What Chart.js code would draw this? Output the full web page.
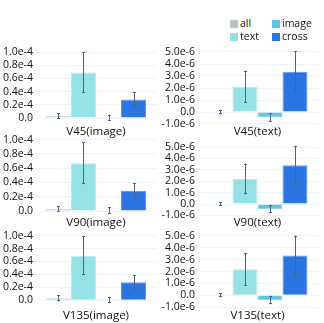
<!DOCTYPE html>
<html>
<head>
<meta charset="utf-8">
<script src="https://cdn.jsdelivr.net/npm/chart.js@4.4.0/dist/chart.umd.min.js"></script>
<style>
    html, body { margin: 0; padding: 0; background: #fff; }
    #wrap { position: relative; width: 324px; height: 323px; overflow: hidden; font-family: "Open Sans", sans-serif; }
    canvas { position: absolute; }
    .lg { position: absolute; font-size: 10.5px; color: #111; line-height: 12px; white-space: nowrap; }
    .lg i { display: inline-block; width: 8px; height: 8px; margin-right: 2px; vertical-align: -1px; }
</style>
</head>
<body>
<div id="wrap"></div>
<script>
// 系列
const seriesNames = ['all', 'text', 'image', 'cross'];
const seriesColors = ['#bcc5c9', '#95e1e6', '#5ec6e1', '#2b75e0'];
const seriesBorders = ['#cfd6d9', '#b4ecef', '#86d5ea', '#5f97ea'];

// 刻度
const imageTicks = [0, 0.2e-4, 0.4e-4, 0.6e-4, 0.8e-4, 1.0e-4];
const imageTickLabels = ['0.0', '0.2e-4', '0.4e-4', '0.6e-4', '0.8e-4', '1.0e-4'];
const textTicks = [-1e-6, 0, 1e-6, 2e-6, 3e-6, 4e-6, 5e-6];
const textTickLabels = ['-1.0e-6', '0.0', '1.0e-6', '2.0e-6', '3.0e-6', '4.0e-6', '5.0e-6'];

// 数值 (all, text, image, cross)
const v45Image = [0.03e-4, 0.69e-4, 0.005e-4, 0.28e-4];
const v45ImageErr = [0.04e-4, 0.305e-4, 0.045e-4, 0.11e-4];
const v90Image = [0.03e-4, 0.67e-4, 0.005e-4, 0.28e-4];
const v90ImageErr = [0.04e-4, 0.295e-4, 0.045e-4, 0.11e-4];
const v135Image = [0.03e-4, 0.69e-4, 0.003e-4, 0.28e-4];
const v135ImageErr = [0.045e-4, 0.3e-4, 0.05e-4, 0.11e-4];

const v45Text = [0, 2.1e-6, -0.45e-6, 3.35e-6];
const v45TextErr = [0.18e-6, 1.35e-6, 0.37e-6, 1.7e-6];
const v90Text = [0, 2.2e-6, -0.45e-6, 3.4e-6];
const v90TextErr = [0.18e-6, 1.35e-6, 0.35e-6, 1.7e-6];
const v135Text = [0, 2.2e-6, -0.4e-6, 3.35e-6];
const v135TextErr = [0.18e-6, 1.38e-6, 0.36e-6, 1.68e-6];

// 面板布局
const panels = [
    { title: 'V45(image)', vals: v45Image, errs: v45ImageErr, kind: 'image', x: 0, y: 42, w: 162, h: 98, top: 50.7, bottom: 122, titleY: 132 },
    { title: 'V45(text)', vals: v45Text, errs: v45TextErr, kind: 'text', x: 162, y: 42, w: 162, h: 98, top: 50.8, bottom: 124.6, titleY: 131 },
    { title: 'V90(image)', vals: v90Image, errs: v90ImageErr, kind: 'image', x: 0, y: 130, w: 162, h: 100, top: 137.6, bottom: 215.3, titleY: 223 },
    { title: 'V90(text)', vals: v90Text, errs: v90TextErr, kind: 'text', x: 162, y: 130, w: 162, h: 100, top: 145.9, bottom: 216, titleY: 223 },
    { title: 'V135(image)', vals: v135Image, errs: v135ImageErr, kind: 'image', x: 0, y: 226, w: 162, h: 97, top: 232.7, bottom: 305, titleY: 317 },
    { title: 'V135(text)', vals: v135Text, errs: v135TextErr, kind: 'text', x: 162, y: 226, w: 162, h: 97, top: 234.8, bottom: 308.6, titleY: 317 }
];

const TITLE_SIZE = 11.5;
const TITLE_LH = TITLE_SIZE * 1.2;

// 误差线插件
const errorBars = {
    id: 'errorBars',
    afterDatasetsDraw(chart) {
        const ctx = chart.ctx;
        const yScale = chart.scales.y;
        ctx.save();
        ctx.strokeStyle = '#4d6290';
        ctx.lineWidth = 1;
        chart.data.datasets.forEach((ds, i) => {
            const meta = chart.getDatasetMeta(i);
            meta.data.forEach((bar, j) => {
                const v = ds.data[j];
                const e = ds.errs[j];
                const x = Math.round(bar.x) + 0.5;
                const y1 = yScale.getPixelForValue(v + e);
                const y2 = yScale.getPixelForValue(v - e);
                ctx.beginPath();
                ctx.moveTo(x, y1);
                ctx.lineTo(x, y2);
                ctx.moveTo(x - 1.5, Math.round(y1) + 0.5);
                ctx.lineTo(x + 1.5, Math.round(y1) + 0.5);
                ctx.moveTo(x - 1.5, Math.round(y2) - 0.5);
                ctx.lineTo(x + 1.5, Math.round(y2) - 0.5);
                ctx.stroke();
            });
        });
        ctx.restore();
    }
};

function buildPanel(p) {
    const canvas = document.createElement('canvas');
    canvas.width = p.w;
    canvas.height = p.h;
    canvas.style.left = p.x + 'px';
    canvas.style.top = p.y + 'px';
    document.getElementById('wrap').appendChild(canvas);

    const isImage = p.kind === 'image';
    const ticks = isImage ? imageTicks : textTicks;
    const tickLabels = isImage ? imageTickLabels : textTickLabels;
    const yMin = isImage ? -0.06e-4 : -1.05e-6;
    const yMax = isImage ? 1.02e-4 : 5.1e-6;
    const axisW = isImage ? 35 : 35;
    const plotRight = isImage ? 157 : 318;
    const catPct = isImage ? 0.82 : 0.826;

    const titlePad = Math.max(0, p.titleY - p.bottom - TITLE_LH / 2);
    const padBottom = Math.max(0, (p.y + p.h) - p.bottom - titlePad - TITLE_LH);

    new Chart(canvas.getContext('2d'), {
        type: 'bar',
        data: {
            labels: [''],
            datasets: seriesNames.map((name, i) => ({
                label: name,
                data: [p.vals[i]],
                errs: [p.errs[i]],
                backgroundColor: seriesColors[i],
                borderColor: seriesBorders[i],
                borderWidth: 1,
                categoryPercentage: catPct,
                barPercentage: 1
            }))
        },
        options: {
            responsive: false,
            animation: false,
            devicePixelRatio: 1,
            layout: {
                padding: {
                    left: 0,
                    right: (p.x + p.w) - plotRight,
                    top: p.top - p.y,
                    bottom: padBottom
                }
            },
            plugins: {
                legend: { display: false },
                tooltip: { enabled: false },
                title: {
                    display: true,
                    fullSize: false,
                    position: 'bottom',
                    text: p.title,
                    color: '#111',
                    font: { family: 'Open Sans', size: TITLE_SIZE, weight: 'normal', lineHeight: 1.2 },
                    padding: { top: titlePad, bottom: 0 }
                }
            },
            scales: {
                x: { display: false },
                y: {
                    min: yMin,
                    max: yMax,
                    border: { display: false },
                    grid: { color: '#edf3fa', drawTicks: false },
                    afterBuildTicks: scale => { scale.ticks = ticks.map(v => ({ value: v })); },
                    afterFit: scale => { scale.width = axisW; },
                    ticks: {
                        autoSkip: false,
                        padding: 2,
                        color: '#111',
                        font: { family: 'Open Sans', size: 10.5 },
                        callback: (v, i) => tickLabels[i]
                    }
                }
            }
        },
        plugins: [errorBars]
    });
}

// 图例
function buildLegend() {
    const wrap = document.getElementById('wrap');
    const spots = [[230, 17], [230, 30], [272, 17], [272, 30]];
    seriesNames.forEach((name, i) => {
        const d = document.createElement('div');
        d.className = 'lg';
        d.style.left = spots[i][0] + 'px';
        d.style.top = spots[i][1] + 'px';
        d.innerHTML = '<i style="background:' + seriesColors[i] + '"></i>' + name;
        wrap.appendChild(d);
    });
}

panels.forEach(buildPanel);
buildLegend();
</script>
</body>
</html>
